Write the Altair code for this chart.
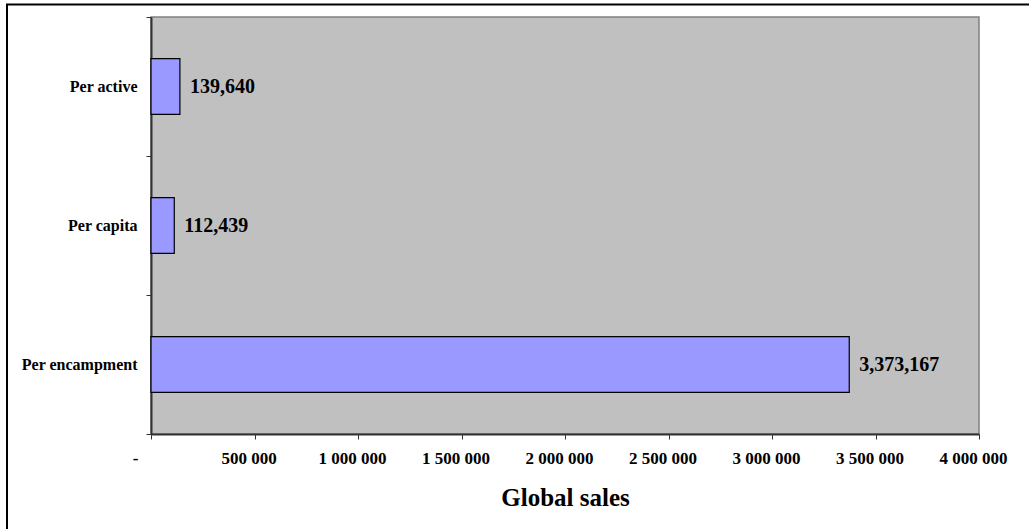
import altair as alt
import pandas as pd

categories = ["Per active", "Per capita", "Per encampment"]
values = [139640, 112439, 3373167]
x_ticks = [0, 500000, 1000000, 1500000, 2000000, 2500000, 3000000, 3500000, 4000000]

df = pd.DataFrame({"category": categories, "value": values})

FONT = "Liberation Serif"

y_enc = alt.Y(
    "category:N",
    sort=categories,
    title=None,
    scale=alt.Scale(paddingInner=0, paddingOuter=0),
    axis=alt.Axis(
        tickBand="extent",
        labelFont=FONT,
        labelFontSize=16,
        labelFontWeight="bold",
        labelColor="#000000",
        labelPadding=9,
        tickSize=5,
        tickColor="#333333",
        domainColor="#333333",
        domainWidth=2,
        labelLimit=300,
    ),
)

x_enc = alt.X(
    "value:Q",
    title="Global sales",
    scale=alt.Scale(domain=[0, 4000000], nice=False),
    axis=alt.Axis(
        values=x_ticks,
        labelExpr="datum.value == 0 ? '-' : replace(format(datum.value, ','), regexp(',', 'g'), ' ')",
        labelFont=FONT,
        labelFontSize=17,
        labelFontWeight="bold",
        labelColor="#000000",
        labelPadding=11,
        labelFlush=False,
        labelOverlap=False,
        labelOffset={"condition": {"test": "datum.value == 0", "value": -16}, "value": -6},
        tickSize=5,
        tickColor="#333333",
        domainColor="#333333",
        domainWidth=2,
        grid=False,
        titleFont=FONT,
        titleFontSize=25,
        titleFontWeight="bold",
        titleColor="#000000",
        titleBaseline="alphabetic",
        titleY=71,
    ),
)

bars = alt.Chart(df).mark_bar(
    color="#9999FF", stroke="#000000", strokeWidth=1.2,
    height={"band": 0.4},
).encode(x=x_enc, y=y_enc)

labels = alt.Chart(df).mark_text(
    align="left", baseline="middle", dx=10, font=FONT, fontSize=20,
    fontWeight="bold", color="#000000"
).encode(
    x=alt.X("value:Q"),
    y=alt.Y("category:N", sort=categories),
    text=alt.Text("value:Q", format=","),
)

frame = alt.Chart(pd.DataFrame({"k": [0]})).mark_rect(
    fillOpacity=0, stroke="#000000", strokeWidth=2
).encode(
    x=alt.value(-144), x2=alt.value(1000), y=alt.value(-12.5), y2=alt.value(600)
)

chart = alt.layer(bars, labels, frame).properties(
    width=828,
    height=417,
    autosize=alt.AutoSizeParams(type="none"),
    padding={"left": 151, "top": 17, "right": 50, "bottom": 95},
    background="#FFFFFF",
).configure_view(
    fill="#C0C0C0", stroke="#808080", strokeWidth=1.5
)

chart.save("out.html", embed_options={"renderer": "svg", "actions": False})
